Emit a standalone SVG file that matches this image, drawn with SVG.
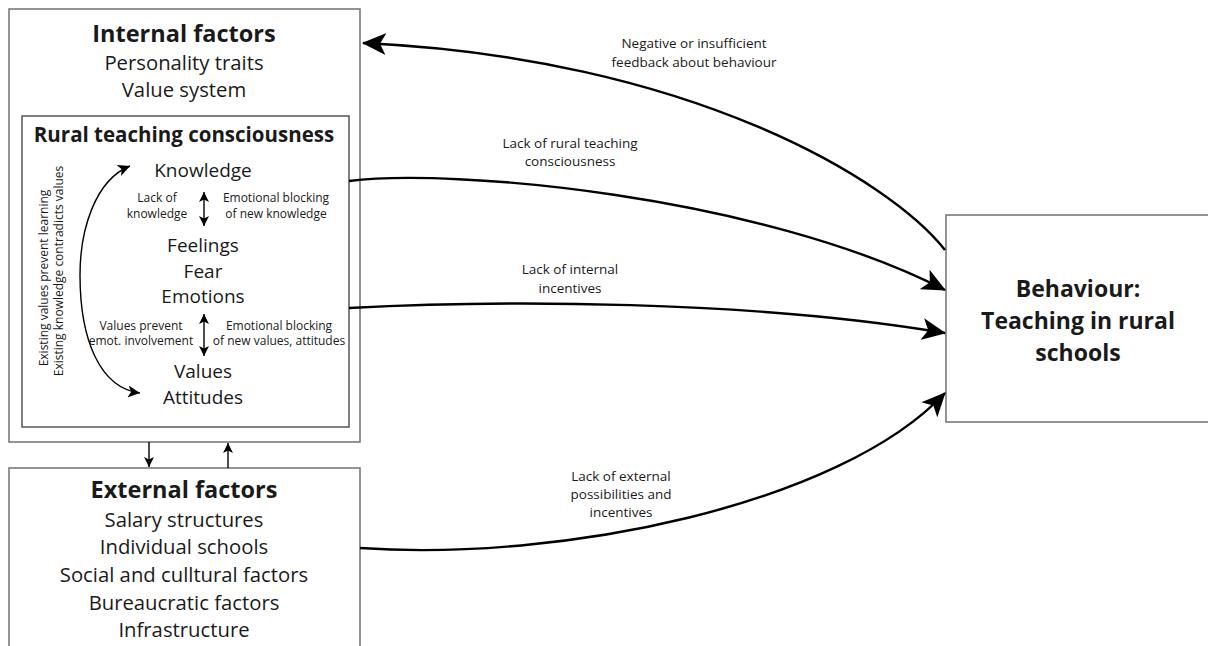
<svg xmlns="http://www.w3.org/2000/svg" width="1208" height="646" viewBox="0 0 1208 646">
<defs>
<style>
.box{fill:#fff;stroke:#7a7a7a;stroke-width:1.6}
.inner{fill:#fff;stroke:#4a4a4a;stroke-width:1.4}
.t{font-family:"Open Sans","Liberation Sans",sans-serif;fill:#1a1a1a;text-anchor:middle}
.b{font-weight:bold}
.h1{font-size:23.5px}
.h2{font-size:20.5px}
.m{font-size:20.3px}
.k{font-size:19px}
.s{font-size:12px}
.lab{font-size:13.5px}
.con{fill:none;stroke:#000;stroke-width:2.4}
.thin{fill:none;stroke:#000;stroke-width:1.4}
</style>
<marker id="big" viewBox="0 0 24 22" refX="23" refY="11" markerWidth="24" markerHeight="22" markerUnits="userSpaceOnUse" orient="auto">
<path d="M0,0 L24,11 L0,22 L6,11 Z" fill="#000"/>
</marker>
<marker id="sm" viewBox="0 0 10 10" refX="10" refY="5" markerWidth="10" markerHeight="10" markerUnits="userSpaceOnUse" orient="auto-start-reverse">
<path d="M0,0 L10,5 L0,10 L2.5,5 Z" fill="#000"/>
</marker>
<marker id="md" viewBox="0 0 12 12" refX="12" refY="6" markerWidth="12" markerHeight="12" markerUnits="userSpaceOnUse" orient="auto-start-reverse">
<path d="M0,0 L12,6 L0,12 L3,6 Z" fill="#000"/>
</marker>
</defs>
<rect width="1208" height="646" fill="#fff"/>

<g id="internal-factors">
<rect class="box" x="9" y="9" width="351" height="433"/>
<text class="t b h1" x="184" y="42">Internal factors</text>
<text class="t m" x="184" y="70">Personality traits</text>
<text class="t m" x="184" y="97">Value system</text>
</g>

<g id="rural-teaching-consciousness">
<rect class="inner" x="22" y="116" width="327" height="311"/>
<text class="t b h2" x="184" y="142">Rural teaching consciousness</text>
<text class="t k" x="203" y="177">Knowledge</text>
<text class="t s" x="157" y="202">Lack of</text>
<text class="t s" x="157" y="218">knowledge</text>
<text class="t s" x="276" y="202">Emotional blocking</text>
<text class="t s" x="276" y="218">of new knowledge</text>
<text class="t k" x="203" y="252">Feelings</text>
<text class="t k" x="203" y="278">Fear</text>
<text class="t k" x="203" y="303">Emotions</text>
<text class="t s" x="141" y="330">Values prevent</text>
<text class="t s" x="141" y="345">emot. involvement</text>
<text class="t s" x="279" y="330">Emotional blocking</text>
<text class="t s" x="279" y="345">of new values, attitudes</text>
<text class="t k" x="203" y="378">Values</text>
<text class="t k" x="203" y="404">Attitudes</text>
<text class="t s" transform="translate(48,278) rotate(-90)">Existing values prevent learning</text>
<text class="t s" transform="translate(63,271) rotate(-90)">Existing knowledge contradicts values</text>
<path class="thin" d="M204,192 L204,226" marker-start="url(#sm)" marker-end="url(#sm)"/>
<path class="thin" d="M204,314 L204,356" marker-start="url(#sm)" marker-end="url(#sm)"/>
<path class="thin" d="M130,166 C95,180 80,230 80,275 C80,340 100,388 140,393" marker-start="url(#md)" marker-end="url(#md)"/>
</g>

<g id="external-factors">
<rect class="box" x="9" y="468" width="351" height="200"/>
<text class="t b h1" x="184" y="498">External factors</text>
<text class="t m" x="184" y="527">Salary structures</text>
<text class="t m" x="184" y="554">Individual schools</text>
<text class="t m" x="184" y="582">Social and culltural factors</text>
<text class="t m" x="184" y="610">Bureaucratic factors</text>
<text class="t m" x="184" y="637">Infrastructure</text>
</g>

<g id="behaviour">
<rect class="box" x="946" y="215" width="280" height="207"/>
<text class="t b" x="1078" y="297" style="font-size:23px">Behaviour:</text>
<text class="t b" x="1078" y="329" style="font-size:23px">Teaching in rural</text>
<text class="t b" x="1078" y="361" style="font-size:23px">schools</text>
</g>

<g id="connectors">
<path class="thin" d="M149,442 L149,467" marker-end="url(#sm)"/>
<path class="thin" d="M228,468 L228,443" marker-end="url(#sm)"/>
<path class="con" d="M945,250 C890,180 690,58 363,43" marker-end="url(#big)"/>
<path class="con" d="M349,181 C450,168 760,195 945,290" marker-end="url(#big)"/>
<path class="con" d="M349,308 C500,300 750,300 945,333" marker-end="url(#big)"/>
<path class="con" d="M360,548 C560,562 840,505 945,393" marker-end="url(#big)"/>
<text class="t lab" x="694" y="48">Negative or insufficient</text>
<text class="t lab" x="694" y="67">feedback about behaviour</text>
<text class="t lab" x="570" y="148">Lack of rural teaching</text>
<text class="t lab" x="570" y="166">consciousness</text>
<text class="t lab" x="570" y="274">Lack of internal</text>
<text class="t lab" x="570" y="293">incentives</text>
<text class="t lab" x="621" y="481">Lack of external</text>
<text class="t lab" x="621" y="499">possibilities and</text>
<text class="t lab" x="621" y="517">incentives</text>
</g>
</svg>
